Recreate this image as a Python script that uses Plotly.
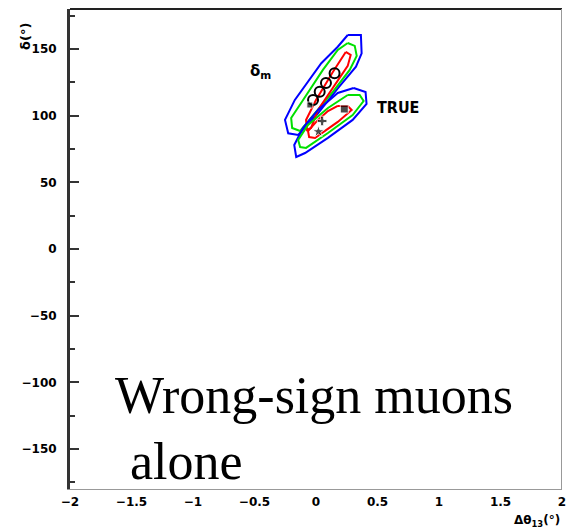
import plotly.graph_objects as go

# ---- data, x = delta theta13 (deg), y = delta (deg)
up_blue_x = [0.258, 0.365, 0.371, 0.325, 0.177, 0.016, -0.145, -0.226, -0.252, -0.172, 0.043, 0.177]
up_blue_y = [160.5, 160.5, 146.8, 136.7, 120.5, 101.8, 85.5, 86.8, 96.8, 111.8, 139.3, 151.7]
up_green_x = [0.258, 0.315, 0.331, 0.274, 0.137, -0.024, -0.129, -0.194, -0.202, -0.105, 0.056, 0.177]
up_green_y = [154.5, 152.3, 144.8, 134.3, 117.8, 100.5, 88.5, 90.8, 98.3, 111.8, 134.3, 149.3]
up_red_x = [0.242, 0.282, 0.258, 0.137, 0.016, -0.040, -0.073, -0.081, 0.0, 0.137]
up_red_y = [147.8, 145.5, 137.3, 120.8, 104.3, 90.8, 89.3, 96.8, 111.8, 132.8]

lo_blue_x = [0.306, 0.403, 0.411, 0.298, 0.097, -0.089, -0.161, -0.177, -0.105, 0.016, 0.177]
lo_blue_y = [120.8, 117.8, 108.8, 96.8, 83.3, 72.0, 69.0, 78.0, 90.8, 104.3, 117.0]
lo_green_x = [0.258, 0.355, 0.387, 0.298, 0.097, -0.081, -0.129, -0.145, -0.065, 0.097]
lo_green_y = [115.5, 115.5, 111.0, 100.5, 87.0, 75.8, 76.5, 81.8, 93.0, 105.8]
lo_red_x = [0.177, 0.258, 0.290, 0.177, -0.008, -0.056, -0.065, 0.016, 0.097]
lo_red_y = [107.3, 107.3, 104.3, 95.3, 83.3, 84.0, 88.5, 96.8, 103.5]

circ_x = [0.151, 0.081, 0.030, -0.024]
circ_y = [131.8, 124.5, 118.0, 111.8]
blk_x = [-0.05, 0.23, 0.05, 0.02]
blk_y = [108.0, 105.0, 96.0, 88.0]

x_ticks = [-2, -1.5, -1, -0.5, 0, 0.5, 1, 1.5, 2]
x_labels = ["\u22122", "\u22121.5", "\u22121", "\u22120.5", "0", "0.5", "1", "1.5", "2"]
y_ticks = [-150, -100, -50, 0, 50, 100, 150]
y_labels = ["\u2212150", "\u2212100", "\u221250", "0", "50", "100", "150"]


def closed(xs, ys):
    return xs + xs[:1], ys + ys[:1]


fig = go.Figure()
for xs, ys, col in [
    (up_blue_x, up_blue_y, "#0000ff"), (up_green_x, up_green_y, "#00e000"), (up_red_x, up_red_y, "#ff0000"),
    (lo_blue_x, lo_blue_y, "#0000ff"), (lo_green_x, lo_green_y, "#00e000"), (lo_red_x, lo_red_y, "#ff0000"),
]:
    cx, cy = closed(xs, ys)
    fig.add_trace(go.Scatter(x=cx, y=cy, mode="lines", line=dict(color=col, width=2),
                             hoverinfo="skip", showlegend=False))

fig.add_trace(go.Scatter(x=circ_x, y=circ_y, mode="markers",
                         marker=dict(symbol="circle-open", size=10, color="black", line=dict(width=2)),
                         showlegend=False))
fig.add_trace(go.Scatter(x=blk_x, y=blk_y, mode="markers",
                         marker=dict(symbol=["square", "square", "cross", "star"], size=[6, 8, 8, 9], color="black"),
                         showlegend=False))

tickfont = dict(family="DejaVu Sans", size=12, color="black", weight="bold")
fig.update_xaxes(range=[-2, 2], tickvals=x_ticks, ticktext=x_labels, tickfont=tickfont,
                 showgrid=False, zeroline=False, showline=True, linecolor="#999999", linewidth=1,
                 ticks="", ticklabelstandoff=2, ticklabeloverflow="allow")
fig.update_yaxes(range=[-180, 180], tickvals=y_ticks, ticktext=y_labels, tickfont=tickfont,
                 showgrid=False, zeroline=False, showline=True, linecolor="#333333", linewidth=3,
                 ticks="inside", ticklen=9, tickwidth=2, tickcolor="#333333", ticklabelstandoff=8,
                 minor=dict(dtick=25, ticks="inside", ticklen=5, tickwidth=2, tickcolor="#333333"))

# top and right frame lines
fig.add_shape(type="line", xref="paper", yref="paper", x0=0, x1=1, y0=1, y1=1,
              line=dict(color="#222222", width=2))
fig.add_shape(type="line", xref="paper", yref="paper", x0=0.999, x1=0.999, y0=0, y1=1,
              line=dict(color="#999999", width=1))

ann = [
    dict(x=-0.45, y=133, text="\u03b4<sub>m</sub>", font=dict(family="DejaVu Sans", size=15, color="black", weight="bold")),
    dict(x=0.665, y=106, text="TRUE", font=dict(family="DejaVu Sans Condensed", size=16, color="black", weight="bold")),
    dict(x=-1.653, y=-109.5, text="Wrong-sign muons", xanchor="left",
         font=dict(family="Liberation Serif", size=52, color="black")),
    dict(x=-1.532, y=-159, text="alone", xanchor="left",
         font=dict(family="Liberation Serif", size=52, color="black")),
]
for a in ann:
    fig.add_annotation(showarrow=False, xref="x", yref="y", **a)

fig.add_annotation(xref="paper", yref="paper", x=-0.11, y=0.975, text="\u03b4(\u00b0)", textangle=-90,
                   showarrow=False, font=dict(family="DejaVu Sans", size=13, color="black", weight="bold"))
fig.add_annotation(xref="paper", yref="paper", x=1.0, y=-0.066, xanchor="right", yanchor="middle",
                   text="\u0394\u03b8<sub>13</sub>(\u00b0)", showarrow=False,
                   font=dict(family="DejaVu Sans", size=12, color="black", weight="bold"))

fig.update_layout(width=566, height=531, margin=dict(l=70, r=0, t=9, b=42),
                  plot_bgcolor="white", paper_bgcolor="white", showlegend=False)

fig.write_html("out.html")
